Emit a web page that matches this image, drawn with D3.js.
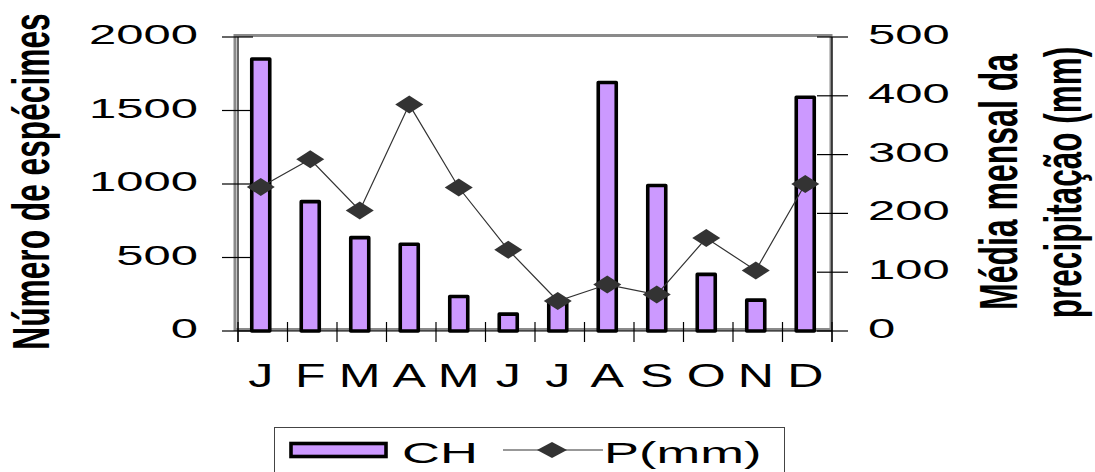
<!DOCTYPE html>
<html>
<head>
<meta charset="utf-8">
<script src="https://cdn.jsdelivr.net/npm/d3@7"></script>
<style>
  html, body { margin: 0; padding: 0; background: #fff; }
  svg { display: block; }
  text { font-family: "Liberation Sans", Arial, sans-serif; fill: #000; }
</style>
</head>
<body>
<svg id="chart" width="1095" height="472"></svg>
<script>
// ---- data ----
const months = ["J","F","M","A","M","J","J","A","S","O","N","D"];
const chValues = [1850, 880, 635, 590, 235, 115, 200, 1690, 990, 385, 210, 1590];
const pValues  = [245, 292, 205, 385, 244, 138, 51, 79, 62, 158, 103, 250];
const leftTicks = [0, 500, 1000, 1500, 2000];
const rightTicks = [0, 100, 200, 300, 400, 500];
const seriesNames = ["CH", "P(mm)"];
const leftTitle = "Número de espécimes";
const rightTitle = ["Média mensal da", "precipitação (mm)"];

// ---- layout ----
const svg = d3.select("#chart");
const plot = { left: 238, right: 832, top: 37, bottom: 331 };
const idx = months.map((m, i) => i);
const x = d3.scaleBand().domain(idx).range([plot.left, plot.right]);
const yL = d3.scaleLinear().domain([0, 2000]).range([plot.bottom, plot.top]);
const yR = d3.scaleLinear().domain([0, 500]).range([plot.bottom, plot.top]);
const markShift = -2;
const cx = i => x(i) + x.bandwidth() / 2 + markShift;

const barFill = "#cc99ff";
const lineColor = "#333333";
const textSX = 1.75;

// gray plot frame
svg.append("rect")
  .attr("x", 235).attr("y", 35.5)
  .attr("width", 596).attr("height", 294)
  .attr("fill", "none").attr("stroke", "#8a8a8a").attr("stroke-width", 3);

// bars
const barW = 18;
svg.append("g").selectAll("rect").data(chValues).join("rect")
  .attr("x", (d, i) => cx(i) - barW / 2)
  .attr("y", d => yL(d))
  .attr("width", barW)
  .attr("height", d => yL(0) - yL(d))
  .attr("fill", barFill)
  .attr("stroke", "#000")
  .attr("stroke-width", 3.6)
  .attr("stroke-linejoin", "round");

// axes lines
const axisG = svg.append("g").attr("stroke", "#000").attr("stroke-width", 1.2);
axisG.append("line").attr("x1", plot.left).attr("x2", plot.left).attr("y1", plot.top).attr("y2", plot.bottom + 11);
axisG.append("line").attr("x1", plot.right).attr("x2", plot.right).attr("y1", plot.top).attr("y2", plot.bottom + 11);
axisG.append("line").attr("x1", plot.left).attr("x2", plot.right).attr("y1", plot.bottom).attr("y2", plot.bottom);

// x ticks (at band edges)
const edges = idx.map(i => x(i)).concat([plot.right]);
axisG.selectAll(".xt").data(edges).join("line")
  .attr("x1", d => d).attr("x2", d => d)
  .attr("y1", plot.bottom - 9).attr("y2", plot.bottom + 11);

// left ticks
axisG.selectAll(".lt").data(leftTicks).join("line")
  .attr("x1", plot.left - 16).attr("x2", plot.left + 15)
  .attr("y1", d => yL(d)).attr("y2", d => yL(d));
// right ticks
axisG.selectAll(".rt").data(rightTicks).join("line")
  .attr("x1", plot.right - 15).attr("x2", plot.right + 16)
  .attr("y1", d => yR(d)).attr("y2", d => yR(d));

// left tick labels
svg.append("g").selectAll("text").data(leftTicks).join("text")
  .attr("transform", d => `translate(198,${yL(d) + 7}) scale(${textSX},1)`)
  .attr("text-anchor", "end")
  .attr("font-size", 28)
  .text(d => d);

// right tick labels
svg.append("g").selectAll("text").data(rightTicks).join("text")
  .attr("transform", d => `translate(868,${yR(d) + 7}) scale(${textSX},1)`)
  .attr("text-anchor", "start")
  .attr("font-size", 28)
  .text(d => d);

// x labels
svg.append("g").selectAll("text").data(months).join("text")
  .attr("transform", (d, i) => `translate(${cx(i)},386.5) scale(1.52,1)`)
  .attr("text-anchor", "middle")
  .attr("font-size", 33)
  .text(d => d);

// line + diamonds
const line = d3.line().x((d, i) => cx(i)).y(d => yR(d));
svg.append("path").datum(pValues)
  .attr("d", line)
  .attr("fill", "none").attr("stroke", lineColor).attr("stroke-width", 1.2);

const dW = 14, dH = 9;
const diamond = `M0,${-dH} L${dW},0 L0,${dH} L${-dW},0 Z`;
svg.append("g").selectAll("path").data(pValues).join("path")
  .attr("transform", (d, i) => `translate(${cx(i)},${yR(d)})`)
  .attr("d", diamond)
  .attr("fill", lineColor);

// axis titles
svg.append("text")
  .attr("transform", `translate(49,181.5) scale(1.65,1) rotate(-90)`)
  .attr("text-anchor", "middle")
  .attr("font-size", 31.7).attr("font-weight", "bold")
  .text(leftTitle);
svg.append("text")
  .attr("transform", `translate(1017,182) scale(1.65,1) rotate(-90)`)
  .attr("text-anchor", "middle")
  .attr("font-size", 32).attr("font-weight", "bold")
  .text(rightTitle[0]);
svg.append("text")
  .attr("transform", `translate(1081,182.5) scale(1.65,1) rotate(-90)`)
  .attr("text-anchor", "middle")
  .attr("font-size", 31.5).attr("font-weight", "bold")
  .text(rightTitle[1]);

// legend
const lg = svg.append("g");
lg.append("rect")
  .attr("x", 274.5).attr("y", 427.5).attr("width", 510).attr("height", 60)
  .attr("fill", "#fff").attr("stroke", "#444").attr("stroke-width", 1);
lg.append("rect")
  .attr("x", 291).attr("y", 443.5).attr("width", 95).attr("height", 13)
  .attr("fill", barFill).attr("stroke", "#000").attr("stroke-width", 3.6);
lg.append("text")
  .attr("transform", `translate(402,463) scale(${textSX},1)`)
  .attr("font-size", 30)
  .text(seriesNames[0]);
lg.append("line")
  .attr("x1", 503).attr("x2", 603).attr("y1", 450).attr("y2", 450)
  .attr("stroke", lineColor).attr("stroke-width", 1.2);
lg.append("path")
  .attr("transform", "translate(552,450)")
  .attr("d", `M0,-8 L15,0 L0,8 L-15,0 Z`)
  .attr("fill", lineColor);
lg.append("text")
  .attr("transform", `translate(604,463) scale(${textSX},1)`)
  .attr("font-size", 30)
  .text(seriesNames[1]);
</script>
</body>
</html>
